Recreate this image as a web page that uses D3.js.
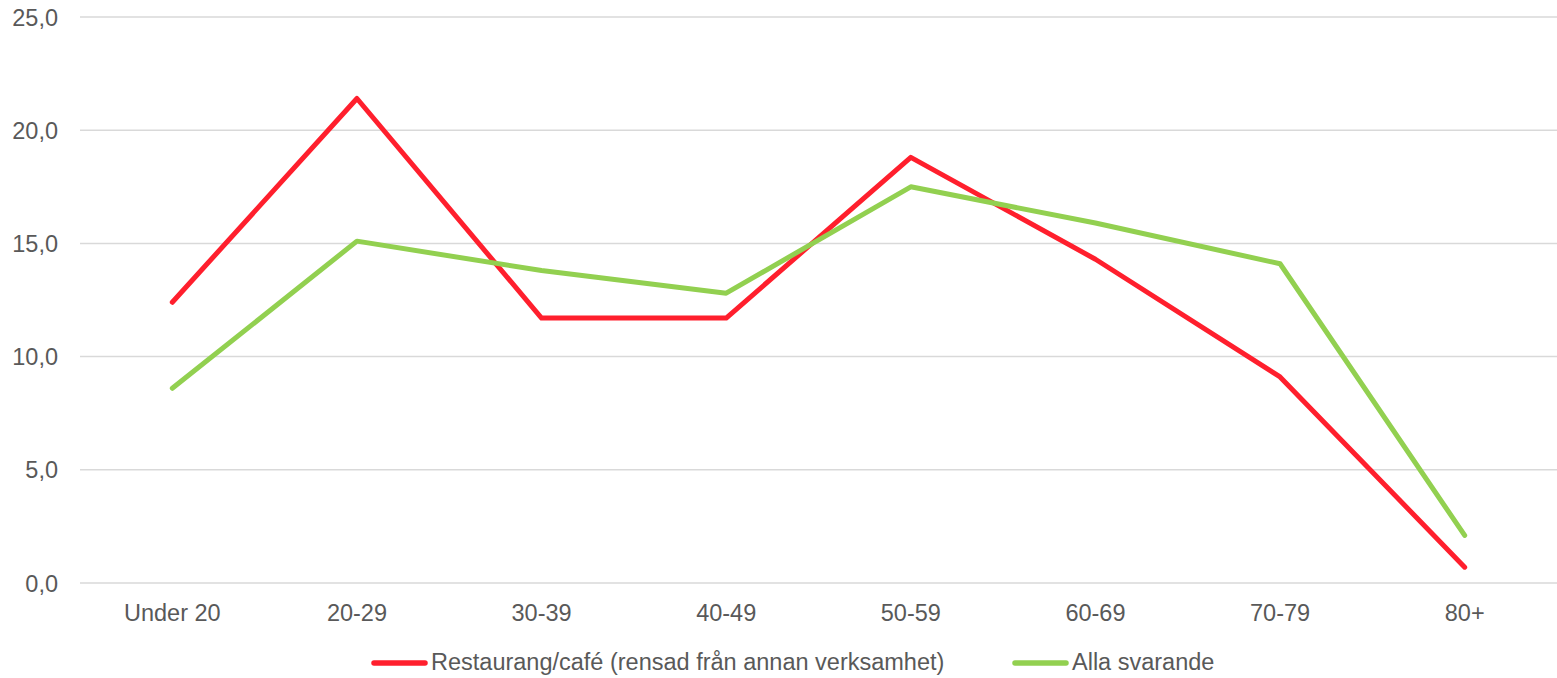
<!DOCTYPE html>
<html><head><meta charset="utf-8">
<script src="https://cdn.jsdelivr.net/npm/d3@7"></script>
<style>body{margin:0;background:#fff}svg{display:block}</style>
</head><body><svg id="c" width="1557" height="678"></svg>
<script>
const categories = ["Under 20","20-29","30-39","40-49","50-59","60-69","70-79","80+"];
const restaurang = [12.4,21.4,11.7,11.7,18.8,14.3,9.1,0.7];
const alla = [8.6,15.1,13.8,12.8,17.5,15.9,14.1,2.1];
const seriesNames = ["Restaurang/café (rensad från annan verksamhet)","Alla svarande"];
const yTicks = [0,5,10,15,20,25];

const svg = d3.select("#c");
const font = "'Liberation Sans', Arial, sans-serif";
const fs = 23.5;
const x = d3.scaleBand().domain(categories).range([80,1557]);
const y = d3.scaleLinear().domain([0,25]).range([583,17]);
const fmt = d => d3.format(".1f")(d).replace(".", ",");

svg.append("g").selectAll("line").data(yTicks).join("line")
  .attr("x1",80).attr("x2",1557).attr("y1",d=>y(d)).attr("y2",d=>y(d))
  .attr("stroke","#d9d9d9").attr("stroke-width",1.5);
svg.append("g").selectAll("text").data(yTicks).join("text")
  .attr("x",58).attr("y",d=>y(d)+8.5).attr("text-anchor","end")
  .attr("font-family",font).attr("font-size",fs).attr("fill","#595959").text(fmt);
svg.append("g").selectAll("text").data(categories).join("text")
  .attr("x",d=>x(d)+x.bandwidth()/2).attr("y",621).attr("text-anchor","middle")
  .attr("font-family",font).attr("font-size",fs).attr("fill","#595959").text(d=>d);

const colors = ["#ff1f2d","#92d050"];
const line = d3.line().x((d,i)=>x(categories[i])+x.bandwidth()/2).y(d=>y(d));
[restaurang, alla].forEach((s,k)=>{
  svg.append("path").datum(s).attr("d",line).attr("fill","none")
    .attr("stroke",colors[k]).attr("stroke-width",5)
    .attr("stroke-linecap","round").attr("stroke-linejoin","round");
});

const legX = [372,1013];
seriesNames.forEach((n,k)=>{
  svg.append("line").attr("x1",legX[k]+2).attr("x2",legX[k]+53).attr("y1",663).attr("y2",663)
    .attr("stroke",colors[k]).attr("stroke-width",5.5).attr("stroke-linecap","round");
  svg.append("text").attr("x",legX[k]+59).attr("y",670)
    .attr("font-family",font).attr("font-size",fs).attr("fill","#595959").text(n);
});
</script></body></html>
